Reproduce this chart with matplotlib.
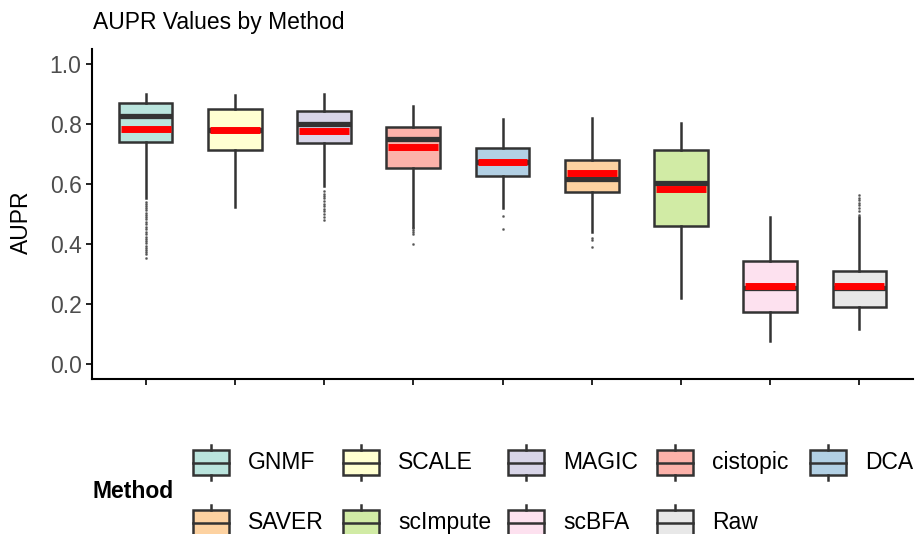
import matplotlib
matplotlib.use("Agg")
import matplotlib.pyplot as plt
from matplotlib.patches import Rectangle
from matplotlib.colors import to_rgba

plt.rcParams['font.family'] = ['Liberation Sans', 'DejaVu Sans']

methods = ['GNMF', 'SCALE', 'MAGIC', 'cistopic', 'DCA', 'SAVER', 'scImpute', 'scBFA', 'Raw']
base_colors = ['#8DD3C7', '#FFFFB3', '#BEBADA', '#FB8072', '#80B1D3',
               '#FDB462', '#B3DE69', '#FCCDE5', '#D9D9D9']

# five-number summaries per method
whisker_lo = [0.552, 0.524, 0.593, 0.458, 0.521, 0.441, 0.219, 0.077, 0.117]
q1 = [0.740, 0.713, 0.736, 0.654, 0.628, 0.572, 0.460, 0.174, 0.189]
medians = [0.827, 0.779, 0.800, 0.749, 0.673, 0.618, 0.602, 0.252, 0.255]
q3 = [0.869, 0.849, 0.842, 0.791, 0.720, 0.679, 0.713, 0.342, 0.311]
whisker_hi = [0.900, 0.897, 0.900, 0.860, 0.816, 0.819, 0.804, 0.491, 0.491]
means = [0.783, 0.779, 0.778, 0.722, 0.675, 0.638, 0.585, 0.261, 0.260]

outliers = [
    [0.541, 0.535, 0.528, 0.520, 0.512, 0.505, 0.497, 0.490, 0.482, 0.475,
     0.466, 0.458, 0.450, 0.441, 0.433, 0.425, 0.418, 0.410, 0.402, 0.395,
     0.388, 0.380, 0.373, 0.366, 0.352],
    [],
    [0.577, 0.568, 0.560, 0.552, 0.544, 0.535, 0.527, 0.518, 0.510, 0.500,
     0.490, 0.480],
    [0.453, 0.446, 0.440, 0.432, 0.400],
    [0.494, 0.451],
    [0.420, 0.413, 0.390],
    [],
    [],
    [0.563, 0.555, 0.546, 0.538, 0.530, 0.520, 0.510, 0.497],
]

edge = '#333333'
lw = 1.8
fs = 16.5

fig = plt.figure(figsize=(9.17, 5.34), dpi=100)
ax = fig.add_axes([92 / 917, (534 - 379) / 534, (913 - 92) / 917, (379 - 49) / 534])

stats = []
for i, m in enumerate(methods):
    stats.append(dict(label=m, whislo=whisker_lo[i], q1=q1[i], med=medians[i],
                      q3=q3[i], whishi=whisker_hi[i], fliers=outliers[i]))

positions = list(range(1, len(methods) + 1))
bp = ax.bxp(stats, positions=positions, widths=0.6, patch_artist=True,
            showcaps=False,
            boxprops=dict(edgecolor=edge, linewidth=lw),
            whiskerprops=dict(color=edge, linewidth=lw),
            medianprops=dict(color=edge, linewidth=3.8, solid_capstyle='butt'),
            flierprops=dict(marker='o', markersize=1.0, markerfacecolor='#444444',
                            markeredgecolor='#444444', alpha=0.7))
for patch, c in zip(bp['boxes'], base_colors):
    patch.set_facecolor(to_rgba(c, 0.6))

# mean marker drawn as a red bar across each box
ax.hlines(means, [p - 0.28 for p in positions], [p + 0.28 for p in positions],
          colors='#FF0000', linewidth=5, zorder=5)

ax.set_xlim(0.4, 9.6)
ax.set_ylim(-0.05, 1.05)
ax.set_xticks(positions)
ax.set_xticklabels([])
ax.set_yticks([0.0, 0.2, 0.4, 0.6, 0.8, 1.0])
ax.set_yticklabels(['0.0', '0.2', '0.4', '0.6', '0.8', '1.0'])
ax.tick_params(axis='both', length=4.5, width=1.2, color='black',
               labelsize=fs, labelcolor='#4D4D4D', pad=3)
for s in ['top', 'right']:
    ax.spines[s].set_visible(False)
for s in ['left', 'bottom']:
    ax.spines[s].set_linewidth(1.5)
    ax.spines[s].set_color('black')

fig.text(93 / 917, 1 - 23 / 534, 'AUPR Values by Method', fontsize=fs,
         ha='left', va='center')
fig.text(21 / 917, 1 - 222 / 534, 'AUPR', fontsize=fs, rotation=90,
         ha='center', va='center')

# legend, laid out in pixel coordinates
lax = fig.add_axes([0, 0, 1, 1])
lax.set_xlim(0, 917)
lax.set_ylim(534, 0)
lax.axis('off')

lax.text(92, 492, 'Method', fontsize=fs, fontweight='bold', ha='left', va='center')
key_x = [193, 343, 508, 657, 810]
row_y = [462.5, 522.5]
for i, (m, c) in enumerate(zip(methods, base_colors)):
    r, col = divmod(i, 5)
    x0 = key_x[col]
    yc = row_y[r]
    kw, kh = 36, 25
    lax.add_patch(Rectangle((x0, yc - kh / 2), kw, kh, facecolor=to_rgba(c, 0.6),
                            edgecolor=edge, linewidth=lw))
    lax.plot([x0, x0 + kw], [yc, yc], color=edge, linewidth=lw)
    lax.plot([x0 + kw / 2] * 2, [yc - kh / 2 - 5, yc - kh / 2], color=edge, linewidth=lw)
    lax.plot([x0 + kw / 2] * 2, [yc + kh / 2, yc + kh / 2 + 5], color=edge, linewidth=lw)
    lax.text(x0 + 55, yc, m, fontsize=fs, ha='left', va='center')

fig.savefig('out.png', dpi=100)
